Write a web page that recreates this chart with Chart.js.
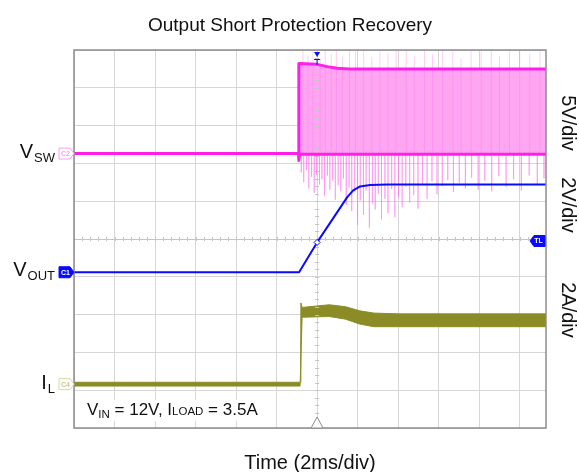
<!DOCTYPE html>
<html>
<head>
<meta charset="utf-8">
<script src="https://cdn.jsdelivr.net/npm/chart.js@4.4.0/dist/chart.umd.min.js"></script>
<style>html,body{margin:0;background:#fff}</style>
</head>
<body>
<canvas id="scope" width="579" height="472"></canvas>
<script>
/* ========= DATA (time in ms, 0 = trigger) ========= */
const TIME_DIVS = [-12, -10, -8, -6, -4, -2, 0, 2, 4, 6, 8, 10];

// V_SW (V): upper / lower envelope of the switching node
const swT  = [-12, -0.92, -0.90, -0.86, 0, 0.5, 1.0, 1.6, 11.3];
const swHi = [0, 0, 11.9, 11.9, 11.8, 11.5, 11.3, 11.2, 11.2];
const swLo = [0, 0, -0.9, -0.1, -0.1, -0.1, -0.1, -0.1, -0.1];
// ringing spikes on V_SW (tip voltage)
const swDownT = [-0.78,-0.66,-0.52,-0.41,-0.27,-0.14,-0.03,0.12,0.24,0.37,0.51,0.63,0.77,0.9,1.04,1.17,1.3,1.44,1.58,1.71,1.86,2.0,2.13,2.29,2.42,2.58,2.73,2.87,3.02,3.18,3.35,3.5,3.68,3.84,4.02,4.2,4.38,4.57,4.77,4.98,5.2,5.43,5.67,5.92,6.18,6.45,6.73,7.02,7.32,7.63,7.95,8.28,8.62,8.97,9.33,9.7,10.08,10.47,10.87,11.2];
const swDownV = [-2.5,-3.8,-2.2,-4.6,-3.1,-5.2,-2.8,-4.1,-3.4,-5.6,-2.9,-4.8,-3.6,-6.1,-4.2,-5.0,-3.3,-6.8,-4.5,-7.6,-5.1,-9.4,-6.2,-8.1,-4.9,-9.8,-6.6,-7.4,-5.3,-8.7,-6.0,-7.9,-4.7,-8.4,-5.8,-7.1,-4.4,-6.5,-5.5,-7.3,-4.1,-6.0,-3.7,-5.4,-4.3,-3.5,-5.1,-3.9,-4.6,-3.2,-4.8,-3.6,-5.0,-3.0,-4.4,-3.4,-4.9,-2.9,-4.1,-3.3];
const swUpT = [-0.7,-0.45,-0.2,0.15,0.4,0.7,0.95,1.25,1.6,1.9,2.3,2.7,3.1,3.5,3.9,4.4,4.8,5.3,5.7,6.2,6.7,7.1,7.6,8.1,8.6,9.0,9.5,10.0,10.5,11.0];
const swUpV = [13.7,13.0,13.7,12.6,13.7,13.2,13.7,12.8,13.7,13.5,13.7,12.7,13.7,13.3,13.7,13.7,12.9,13.7,13.1,13.7,13.7,12.6,13.7,13.4,13.7,12.9,13.7,13.7,13.2,13.7];

// V_OUT (V)
const outT = [-12, -0.89, 0, 1.48, 1.78, 2.12, 2.62, 3.5, 11.3];
const outV = [0, 0, 1.58, 3.96, 4.33, 4.54, 4.62, 4.64, 4.64];

// I_L (A): upper / lower envelope of the noisy band
const ilT  = [-12, -0.84, -0.80, -0.74, 0.6, 1.4, 2.1, 2.8, 4.0, 11.3];
const ilHi = [0.1, 0.1, 4.3, 4.06, 4.2, 4.1, 3.88, 3.76, 3.72, 3.72];
const ilLo = [-0.1, -0.1, -0.1, 3.54, 3.58, 3.44, 3.18, 3.04, 3.04, 3.04];

/* ========= CHANNEL SETUP (ground position in divisions from centre) ========= */
const CH = {
  sw:  { zero: 2.26,  perDiv: 5 },
  out: { zero: -0.88, perDiv: 2 },
  il:  { zero: -3.84, perDiv: 2 }
};
const range = c => ({ min: (-5 - c.zero) * c.perDiv, max: (5 - c.zero) * c.perDiv });

const PINK = "#ff1fe8", PINK_FILL = "#ffa6f2", BLUE = "#0a0aff", OLIVE = "#8c8c26";
const FONT = "'Liberation Sans', Arial, sans-serif";

const pts = (t, v) => t.map((x, i) => ({ x, y: v[i] }));
function spikes(t, v){
  const out = [];
  t.forEach((x, i) => { out.push({x, y: 0}, {x, y: v[i]}, {x, y: null}); });
  return out;
}

/* ========= OVERLAY ========= */
function tag(ctx, tip, ym, txt, fill, stroke, col, left){
  const w = 15, h = 11, d = left ? -1 : 1;
  ctx.beginPath();
  ctx.moveTo(tip - d*w, ym - h/2);
  ctx.lineTo(tip - d*4, ym - h/2);
  ctx.lineTo(tip, ym);
  ctx.lineTo(tip - d*4, ym + h/2);
  ctx.lineTo(tip - d*w, ym + h/2);
  ctx.closePath();
  if (fill){ ctx.fillStyle = fill; ctx.fill(); }
  if (stroke){ ctx.strokeStyle = stroke; ctx.lineWidth = 1; ctx.stroke(); }
  ctx.fillStyle = col;
  ctx.font = "bold 7px " + FONT;
  ctx.textAlign = "center"; ctx.textBaseline = "middle";
  ctx.fillText(txt, tip - d*8.5, ym + 0.5);
}

function subLabel(ctx, xr, yb, main, sub){
  ctx.textAlign = "left"; ctx.textBaseline = "alphabetic"; ctx.fillStyle = "#111";
  ctx.font = "20px " + FONT; const wm = ctx.measureText(main).width;
  ctx.font = "13px " + FONT; const ws = ctx.measureText(sub).width;
  const x0 = xr - wm - ws - 1;
  ctx.font = "20px " + FONT; ctx.fillText(main, x0, yb);
  ctx.font = "13px " + FONT; ctx.fillText(sub, x0 + wm + 1, yb + 4);
}

const scopePlugin = {
  id: "scope",
  beforeDatasetsDraw(chart){
    const {ctx, scales:{x, y}} = chart;
    const cx = x.getPixelForValue(0), cy = y.getPixelForValue(0);
    ctx.save();
    ctx.strokeStyle = "#c4c4c4"; ctx.lineWidth = 1;
    for (let v = -12; v <= 11.3; v += 0.4){
      const px = Math.round(x.getPixelForValue(v)) + 0.5;
      ctx.beginPath(); ctx.moveTo(px, cy - 2); ctx.lineTo(px, cy + 2); ctx.stroke();
    }
    for (let v = -5; v <= 5.001; v += 0.2){
      const py = Math.round(y.getPixelForValue(v)) + 0.5;
      ctx.beginPath(); ctx.moveTo(cx - 2, py); ctx.lineTo(cx + 2, py); ctx.stroke();
    }
    ctx.restore();
  },
  afterDraw(chart){
    const {ctx, chartArea:a, scales} = chart;
    const x = scales.x;
    ctx.save();

    // frame
    ctx.strokeStyle = "#8c8c8c"; ctx.lineWidth = 1.5;
    ctx.strokeRect(a.left, a.top, a.right - a.left, a.bottom - a.top);

    // channel ground tags + names
    const ySw = scales.ySw.getPixelForValue(0);
    const yOut = scales.yOut.getPixelForValue(0);
    const yIl = scales.yIl.getPixelForValue(0);
    tag(ctx, a.left, ySw, "C2", "#fff", "#ff9cf0", "#ff9cf0");
    tag(ctx, a.left, yOut, "C1", BLUE, BLUE, "#fff");
    tag(ctx, a.left, yIl, "C4", "#fff", "#d8d8a8", "#c8c890");
    subLabel(ctx, a.left - 19, ySw + 4, "V", "SW");
    subLabel(ctx, a.left - 19, yOut + 4, "V", "OUT");
    subLabel(ctx, a.left - 19, yIl + 5, "I", "L");

    // trigger level tag (points left, sits on right edge)
    const yc = scales.y.getPixelForValue(0);
    tag(ctx, a.right - 16, yc + 2, "TL", BLUE, BLUE, "#fff", true);

    // trigger position markers
    const tx = x.getPixelForValue(0);
    ctx.fillStyle = BLUE; ctx.strokeStyle = BLUE; ctx.lineWidth = 1;
    ctx.beginPath(); ctx.moveTo(tx - 3, a.top + 2); ctx.lineTo(tx + 3, a.top + 2); ctx.lineTo(tx, a.top + 7); ctx.closePath(); ctx.fill();
    ctx.beginPath();
    ctx.moveTo(tx - 3, a.top + 9.5); ctx.lineTo(tx + 3, a.top + 9.5);
    ctx.moveTo(tx, a.top + 9.5); ctx.lineTo(tx, a.top + 15);
    ctx.stroke();
    ctx.strokeStyle = "#8c8c8c"; ctx.fillStyle = "#fff";
    ctx.beginPath(); ctx.moveTo(tx - 6, a.bottom); ctx.lineTo(tx, a.bottom - 11); ctx.lineTo(tx + 6, a.bottom); ctx.closePath(); ctx.fill(); ctx.stroke();

    // conditions note
    ctx.textBaseline = "alphabetic"; ctx.textAlign = "left";
    const parts = [["V",17,0],["IN",11.5,3],[" = 12V, I",17,0],["LOAD",11.5,0],[" = 3.5A",17,0]];
    let px = 87; const by = 415;
    let tw = 0;
    parts.forEach(p => { ctx.font = p[1] + "px " + FONT; tw += ctx.measureText(p[0]).width; });
    ctx.fillStyle = "#fff"; ctx.fillRect(px - 3, by - 15, tw + 6, 21);
    ctx.fillStyle = "#111";
    parts.forEach(p => {
      ctx.font = p[1] + "px " + FONT;
      ctx.fillText(p[0], px, by + p[2]);
      px += ctx.measureText(p[0]).width;
    });

    // title and axis caption
    ctx.fillStyle = "#111"; ctx.textAlign = "center";
    ctx.font = "19px " + FONT;
    ctx.fillText("Output Short Protection Recovery", 290, 31);
    ctx.font = "20px " + FONT;
    ctx.fillText("Time (2ms/div)", (a.left + a.right) / 2, 469);

    // volts/amps per division, rotated
    [["5V/div", 123], ["2V/div", 205], ["2A/div", 310]].forEach(([t, yy]) => {
      ctx.save();
      ctx.translate(568, yy); ctx.rotate(Math.PI / 2);
      ctx.textAlign = "center"; ctx.textBaseline = "middle";
      ctx.font = "20px " + FONT; ctx.fillStyle = "#111";
      ctx.fillText(t, 0, 0);
      ctx.restore();
    });
    ctx.restore();
  }
};

/* ========= CHART ========= */
const line = (extra) => Object.assign({
  tension: 0, pointRadius: 0, borderJoinStyle: "round", fill: false
}, extra);
const SPIKE = "rgba(255,110,235,0.35)";

new Chart(document.getElementById("scope"), {
  type: "line",
  data: {
    datasets: [
      line({ data: pts(outT, outV), yAxisID: "yOut", borderColor: BLUE, borderWidth: 2, order: 0,
             pointRadius: c => c.raw && c.raw.x === 0 ? 3 : 0, pointStyle: "rectRot",
             pointBackgroundColor: "#fff", pointBorderColor: BLUE, pointBorderWidth: 1 }),
      line({ data: pts(swT, swHi), yAxisID: "ySw", borderColor: PINK, borderWidth: 3, order: 2 }),
      line({ data: pts(swT, swLo), yAxisID: "ySw", borderColor: PINK, borderWidth: 3, order: 1,
             fill: { target: "-1", above: PINK_FILL, below: PINK_FILL } }),
      line({ data: spikes(swDownT, swDownV), yAxisID: "ySw", borderColor: SPIKE, borderWidth: 1, spanGaps: false, order: 3 }),
      line({ data: spikes(swUpT, swUpV), yAxisID: "ySw", borderColor: SPIKE, borderWidth: 1, spanGaps: false, order: 3 }),
      line({ data: pts(ilT, ilHi), yAxisID: "yIl", borderColor: OLIVE, borderWidth: 1, order: 5 }),
      line({ data: pts(ilT, ilLo), yAxisID: "yIl", borderColor: OLIVE, borderWidth: 1, order: 4,
             fill: { target: "-1", above: OLIVE, below: OLIVE } })
    ]
  },
  options: {
    responsive: false,
    animation: false,
    layout: { padding: { left: 74, right: 33, top: 50, bottom: 44 } },
    plugins: { legend: { display: false }, tooltip: { enabled: false }, filler: { drawTime: "beforeDatasetsDraw" } },
    scales: {
      x: {
        type: "linear", min: -12, max: 11.3,
        afterBuildTicks: s => { s.ticks = TIME_DIVS.map(v => ({ value: v })); },
        ticks: { display: false },
        grid: { color: "#d6d6d6", lineWidth: 1, drawTicks: false },
        border: { display: false }
      },
      y: {
        min: -5, max: 5,
        ticks: { display: false, stepSize: 1 },
        grid: { color: c => c.tick.value === 0 ? "#c4c4c4" : "#d6d6d6", lineWidth: 1, drawTicks: false },
        border: { display: false }
      },
      ySw:  Object.assign({ display: false }, range(CH.sw)),
      yOut: Object.assign({ display: false }, range(CH.out)),
      yIl:  Object.assign({ display: false }, range(CH.il))
    }
  },
  plugins: [scopePlugin]
});
</script>
</body>
</html>
